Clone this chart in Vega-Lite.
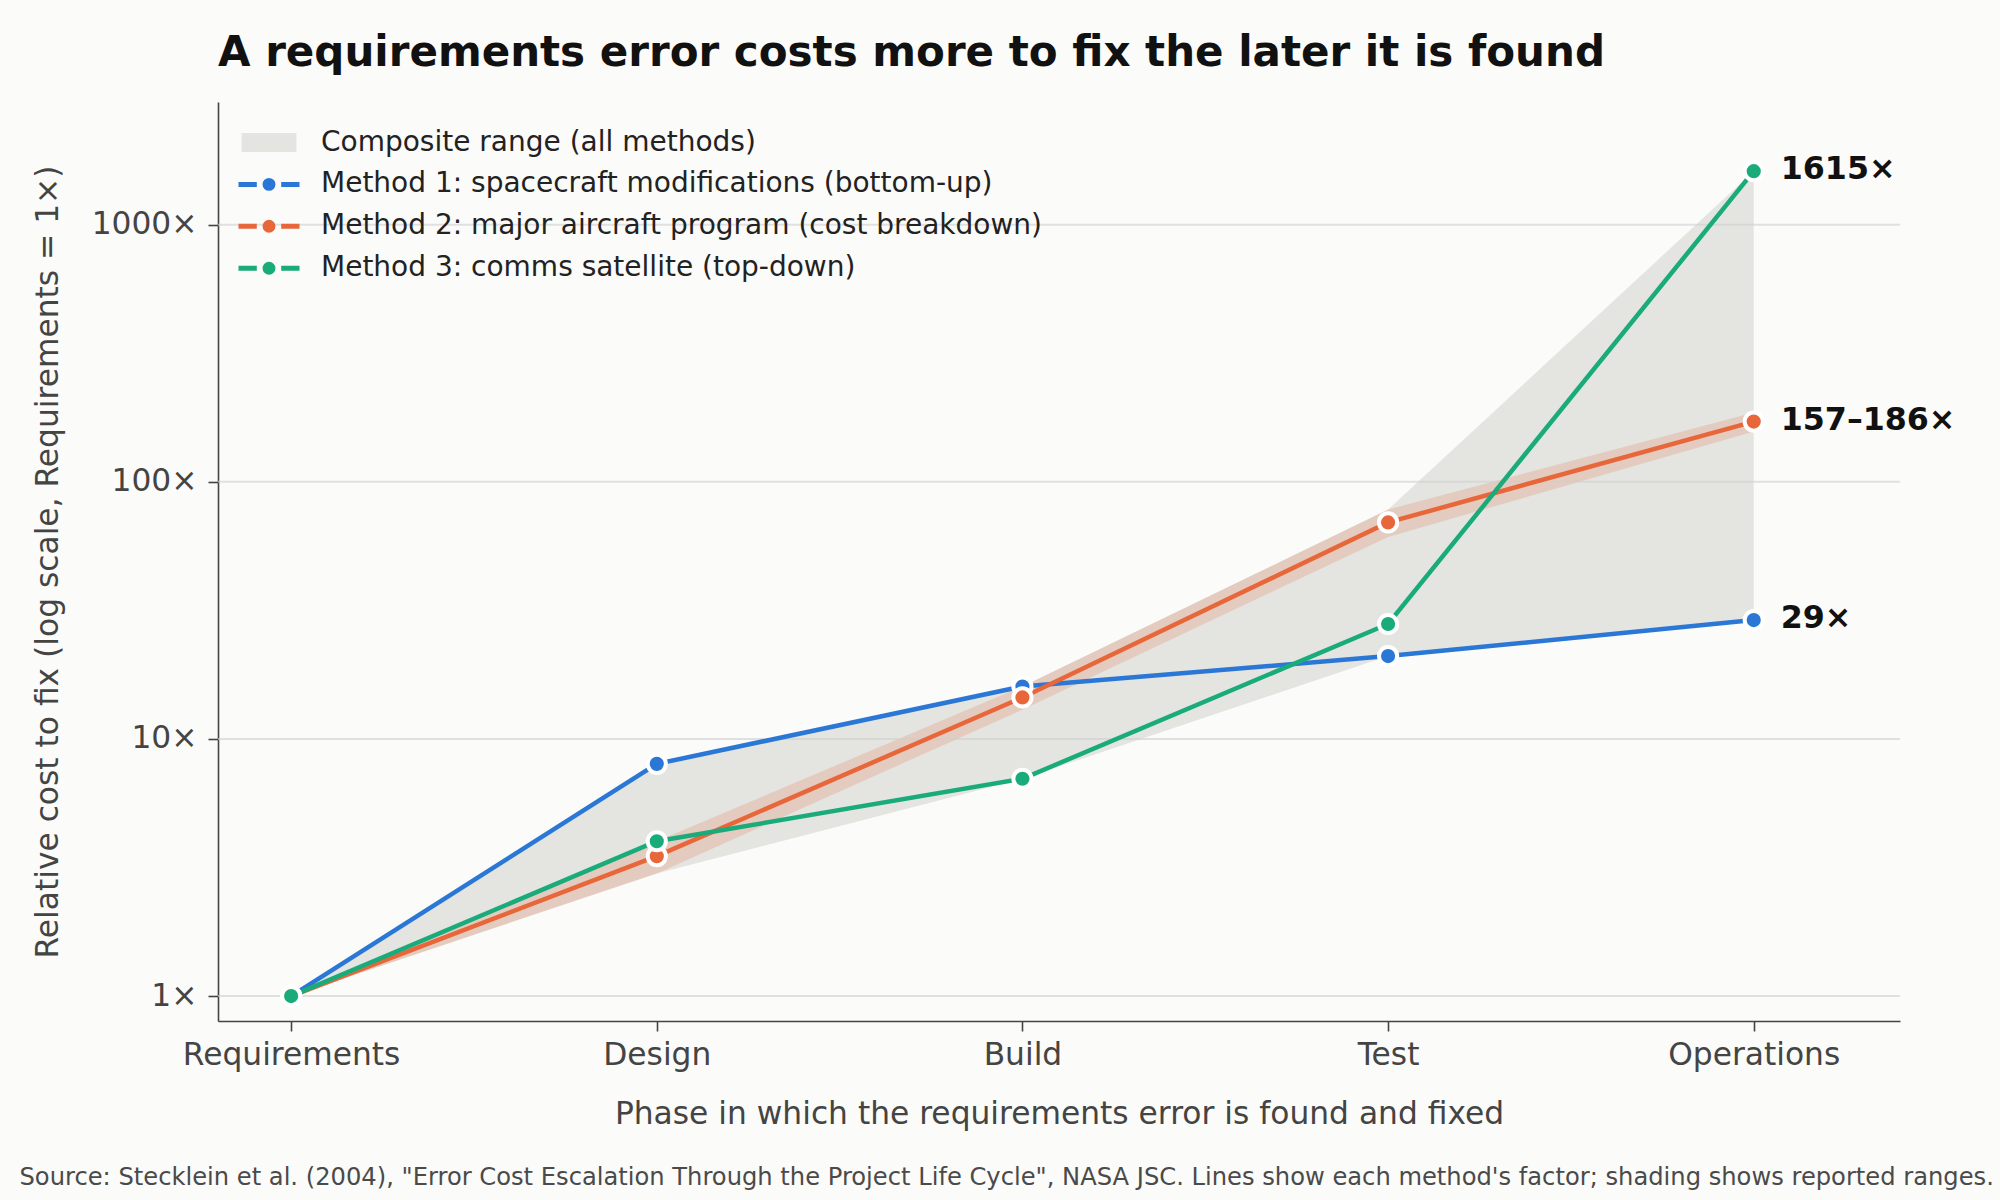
{
  "$schema": "https://vega.github.io/schema/vega-lite/v6.json",
  "width": 1682,
  "height": 919,
  "autosize": {"type": "none"},
  "padding": {"left": 218, "top": 102, "right": 100, "bottom": 179},
  "background": "#fbfbf9",
  "title": {
    "text": "A requirements error costs more to fix the later it is found",
    "anchor": "start",
    "frame": "group",
    "font": "DejaVu Sans",
    "fontSize": 42,
    "fontWeight": "bold",
    "color": "#111111",
    "offset": 27,
    "limit": 0
  },
  "config": {
    "view": {"stroke": null},
    "font": "DejaVu Sans"
  },
  "datasets": {
    "composite": [
      {"series": "Composite range (all methods)", "step": 0, "phase": "Requirements", "lo": 1, "hi": 1},
      {"series": "Composite range (all methods)", "step": 1, "phase": "Design", "lo": 3, "hi": 8},
      {"series": "Composite range (all methods)", "step": 2, "phase": "Build", "lo": 7, "hi": 16},
      {"series": "Composite range (all methods)", "step": 3, "phase": "Test", "lo": 21, "hi": 78},
      {"series": "Composite range (all methods)", "step": 4, "phase": "Operations", "lo": 29, "hi": 1615}
    ],
    "band": [
      {"method": "Method 2: major aircraft program (cost breakdown)", "step": 0, "lo": 1, "hi": 1},
      {"method": "Method 2: major aircraft program (cost breakdown)", "step": 1, "lo": 3, "hi": 4},
      {"method": "Method 2: major aircraft program (cost breakdown)", "step": 2, "lo": 13, "hi": 16},
      {"method": "Method 2: major aircraft program (cost breakdown)", "step": 3, "lo": 61, "hi": 78},
      {"method": "Method 2: major aircraft program (cost breakdown)", "step": 4, "lo": 157, "hi": 186}
    ],
    "grid": [{"g": 1}, {"g": 10}, {"g": 100}, {"g": 1000}],
    "methods": [
      {"method": "Method 1: spacecraft modifications (bottom-up)", "step": 0, "value": 1},
      {"method": "Method 1: spacecraft modifications (bottom-up)", "step": 1, "value": 8},
      {"method": "Method 1: spacecraft modifications (bottom-up)", "step": 2, "value": 16},
      {"method": "Method 1: spacecraft modifications (bottom-up)", "step": 3, "value": 21},
      {"method": "Method 1: spacecraft modifications (bottom-up)", "step": 4, "value": 29},
      {"method": "Method 2: major aircraft program (cost breakdown)", "step": 0, "value": 1},
      {"method": "Method 2: major aircraft program (cost breakdown)", "step": 1, "value": 3.5},
      {"method": "Method 2: major aircraft program (cost breakdown)", "step": 2, "value": 14.5},
      {"method": "Method 2: major aircraft program (cost breakdown)", "step": 3, "value": 69.5},
      {"method": "Method 2: major aircraft program (cost breakdown)", "step": 4, "value": 171.5},
      {"method": "Method 3: comms satellite (top-down)", "step": 0, "value": 1},
      {"method": "Method 3: comms satellite (top-down)", "step": 1, "value": 4},
      {"method": "Method 3: comms satellite (top-down)", "step": 2, "value": 7},
      {"method": "Method 3: comms satellite (top-down)", "step": 3, "value": 28},
      {"method": "Method 3: comms satellite (top-down)", "step": 4, "value": 1615}
    ],
    "labels": [
      {"method": "Method 1: spacecraft modifications (bottom-up)", "step": 4, "value": 29, "label": "29×"},
      {"method": "Method 2: major aircraft program (cost breakdown)", "step": 4, "value": 171.5, "label": "157–186×"},
      {"method": "Method 3: comms satellite (top-down)", "step": 4, "value": 1615, "label": "1615×"}
    ]
  },
  "resolve": {"axis": {"x": "independent"}},
  "layer": [
    {
      "data": {"name": "composite"},
      "mark": {"type": "area", "opacity": 1},
      "encoding": {
        "x": {
          "field": "step",
          "type": "quantitative",
          "scale": {"domain": [-0.2, 4.4], "nice": false, "zero": false},
          "axis": {
            "orient": "bottom",
            "values": [0, 1, 2, 3, 4],
            "labelExpr": "['Requirements','Design','Build','Test','Operations'][datum.value]",
            "title": "Phase in which the requirements error is found and fixed",
            "grid": false,
            "labelFont": "DejaVu Sans",
            "labelFontSize": 31.3,
            "labelColor": "#444444",
            "labelPadding": 8,
            "labelLimit": 0,
            "titleFont": "DejaVu Sans",
            "titleFontSize": 31.3,
            "titleFontWeight": "normal",
            "titleColor": "#444444",
            "titleBaseline": "alphabetic",
            "titleY": 102,
            "titleX": 841,
            "titleLimit": 0,
            "domainColor": "#444444",
            "domainWidth": 1.6,
            "tickColor": "#444444",
            "tickWidth": 1.6,
            "tickSize": 10
          }
        },
        "y": {
          "field": "lo",
          "type": "quantitative",
          "scale": {"type": "log", "domain": [0.8, 3000], "nice": false},
          "axis": {
            "values": [1, 10, 100, 1000],
            "labelExpr": "datum.value + '×'",
            "title": "Relative cost to fix (log scale, Requirements = 1×)",
            "grid": false,
            "labelFont": "DejaVu Sans",
            "labelFontSize": 31.3,
            "labelColor": "#444444",
            "labelPadding": 11,
            "titleFont": "DejaVu Sans",
            "titleFontSize": 31.3,
            "titleFontWeight": "normal",
            "titleColor": "#444444",
            "titleBaseline": "alphabetic",
            "titleX": -161,
            "titleY": 459.5,
            "titleAngle": -90,
            "titleLimit": 0,
            "domainColor": "#444444",
            "domainWidth": 1.6,
            "tickColor": "#444444",
            "tickWidth": 1.6,
            "tickSize": 10
          }
        },
        "y2": {"field": "hi"},
        "color": {
          "field": "series",
          "type": "nominal",
          "scale": {
            "domain": [
              "Composite range (all methods)",
              "Method 1: spacecraft modifications (bottom-up)",
              "Method 2: major aircraft program (cost breakdown)",
              "Method 3: comms satellite (top-down)"
            ],
            "range": ["#e4e4e0", "#2a77d5", "#e8673a", "#1aab7a"]
          }
        }
      }
    },
    {
      "data": {"name": "band"},
      "mark": {"type": "area", "color": "#e8673a", "opacity": 0.2},
      "encoding": {
        "x": {"field": "step", "type": "quantitative", "axis": null},
        "y": {"field": "lo", "type": "quantitative"},
        "y2": {"field": "hi"}
      }
    },
    {
      "data": {"name": "grid"},
      "mark": {"type": "rule", "color": "#cfcfcf", "opacity": 0.6, "strokeWidth": 2},
      "encoding": {
        "y": {"field": "g", "type": "quantitative"}
      }
    },
    {
      "data": {"name": "methods"},
      "mark": {"type": "line", "strokeWidth": 4.5},
      "encoding": {
        "x": {
          "field": "step",
          "type": "quantitative",
          "axis": {
            "orient": "bottom",
            "labels": false,
            "ticks": false,
            "domain": false,
            "grid": false,
            "title": "Source: Stecklein et al. (2004), \"Error Cost Escalation Through the Project Life Cycle\", NASA JSC. Lines show each method's factor; shading shows reported ranges.",
            "titleFont": "DejaVu Sans",
            "titleFontSize": 24.2,
            "titleFontWeight": "normal",
            "titleColor": "#4a4a4a",
            "titleAlign": "left",
            "titleBaseline": "alphabetic",
            "titleX": -199,
            "titleY": 163,
            "titleLimit": 0
          }
        },
        "y": {"field": "value", "type": "quantitative"},
        "color": {
          "field": "method",
          "type": "nominal",
          "legend": {
            "orient": "none",
            "legendX": 37,
            "legendY": 26.5,
            "title": null,
            "padding": 0,
            "symbolSize": 3721,
            "labelFont": "DejaVu Sans",
            "labelFontSize": 28,
            "labelColor": "#222222",
            "labelOffset": 38,
            "labelLimit": 0,
            "rowPadding": 13.9,
            "encode": {
              "symbols": {
                "update": {
                  "shape": {"signal": "datum.value === 'Composite range (all methods)' ? 'M-0.9,-0.31H0.9V0.31H-0.9Z' : 'M-1,0H-0.4M0.4,0H1M-0.13,0A0.13,0.13,0,1,0,0.13,0A0.13,0.13,0,1,0,-0.13,0Z'"},
                  "fill": {"scale": "color", "field": "value"},
                  "stroke": {"scale": "color", "field": "value"},
                  "strokeWidth": {"signal": "datum.value === 'Composite range (all methods)' ? 0 : 5"},
                  "opacity": {"value": 1},
                  "fillOpacity": {"value": 1},
                  "strokeOpacity": {"value": 1}
                }
              }
            }
          }
        }
      }
    },
    {
      "data": {"name": "methods"},
      "mark": {"type": "circle", "size": 330, "stroke": "white", "strokeWidth": 4, "opacity": 1},
      "encoding": {
        "x": {"field": "step", "type": "quantitative", "axis": null},
        "y": {"field": "value", "type": "quantitative"},
        "color": {"field": "method", "type": "nominal"}
      }
    },
    {
      "data": {"name": "labels"},
      "mark": {"type": "text", "align": "left", "baseline": "middle", "dx": 27, "dy": -2, "font": "DejaVu Sans", "fontSize": 31.7, "fontWeight": "bold", "color": "#111111"},
      "encoding": {
        "x": {"field": "step", "type": "quantitative", "axis": null},
        "y": {"field": "value", "type": "quantitative"},
        "text": {"field": "label"}
      }
    }
  ]
}
